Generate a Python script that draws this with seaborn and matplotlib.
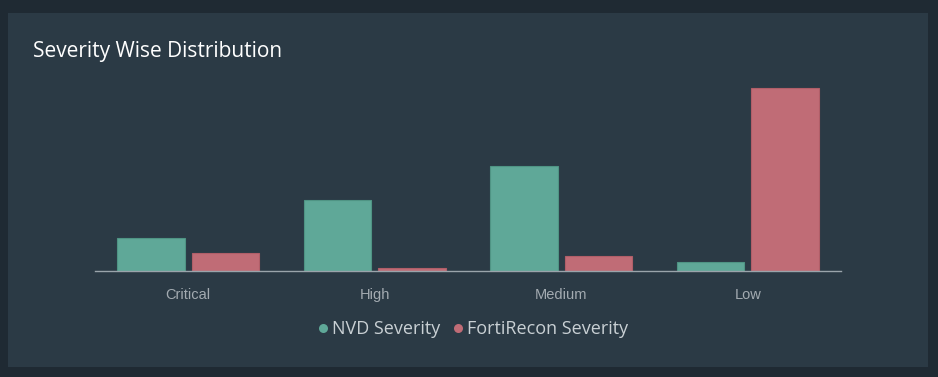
import pandas as pd
import seaborn as sns
import matplotlib.pyplot as plt
from matplotlib.patches import Rectangle
from matplotlib.lines import Line2D

# Data
severities = ['Critical', 'High', 'Medium', 'Low']
nvd_counts = [33, 71, 105, 9]
forti_counts = [18, 3, 15, 183]
series_names = ['NVD Severity', 'FortiRecon Severity']

df = pd.DataFrame({
    'severity': severities * 2,
    'count': nvd_counts + forti_counts,
    'source': [series_names[0]] * 4 + [series_names[1]] * 4,
})

outer_bg = '#1f2a33'
panel_bg = '#2b3a45'
colors = {'NVD Severity': '#5fa898', 'FortiRecon Severity': '#c06c76'}

sns.set_style('dark')
plt.rcParams['font.family'] = ['Open Sans', 'DejaVu Sans']

fig = plt.figure(figsize=(9.38, 3.77), dpi=100, facecolor=outer_bg)
W, H = 938, 377
# inner card
fig.patches.append(Rectangle((8 / W, 1 - 367 / H), 920 / W, 354 / H,
                             transform=fig.transFigure, facecolor=panel_bg,
                             edgecolor='none', zorder=-5))

ax = fig.add_axes([95 / W, 1 - 271 / H, 746 / W, 190 / H])
ax.set_zorder(2)

sns.barplot(data=df, x='severity', y='count', hue='source', order=severities,
            hue_order=series_names, palette=colors, width=0.8, gap=0.1,
            saturation=1, ax=ax, legend=False)
for bar, src in zip(ax.patches, [series_names[0]] * 4 + [series_names[1]] * 4):
    edge = '#4f9484' if src == series_names[0] else '#b05e68'
    bar.set_edgecolor(edge)
    bar.set_linewidth(0.8)

ax.patch.set_alpha(0)
ax.set_xlim(-0.5, 3.5)
ax.set_ylim(0, 190)
ax.set_yticks([])
ax.set_xlabel('')
ax.set_ylabel('')
ax.grid(False)
for side in ['top', 'right', 'left']:
    ax.spines[side].set_visible(False)
ax.spines['bottom'].set_color('#9aa4ab')
ax.spines['bottom'].set_linewidth(1)
ax.tick_params(axis='x', length=0, pad=12, labelsize=10.5, labelcolor='#a3abb1')
for lbl in ax.get_xticklabels():
    lbl.set_family(['Liberation Sans', 'DejaVu Sans'])

fig.text(33 / W, 1 - 52 / H, 'Severity Wise Distribution', color='white',
         fontsize=15, va='center', ha='left')

handles = [Line2D([], [], marker='o', linestyle='', markersize=6.5,
                  markerfacecolor=colors[n], markeredgecolor='none') for n in series_names]
fig.legend(handles, series_names, loc='center', bbox_to_anchor=(472 / W, 1 - 329 / H),
           ncol=2, frameon=False, fontsize=13, labelcolor='#c9d0d4',
           handletextpad=0.1, columnspacing=0.6, handlelength=0.8)

fig.savefig('out.png', dpi=100, facecolor=outer_bg)
